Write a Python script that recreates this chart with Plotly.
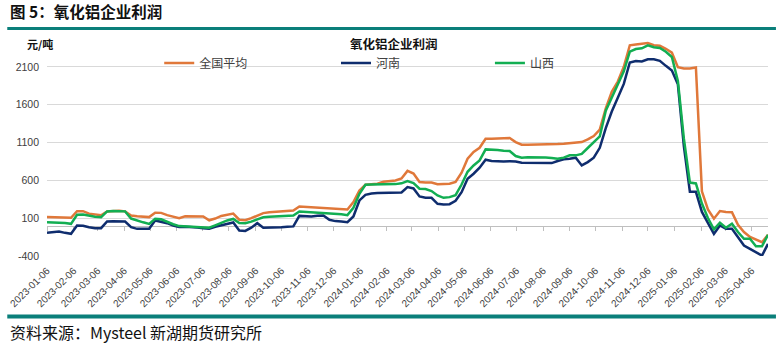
import pandas as pd
import plotly.graph_objects as go

# Weekly alumina producer profit (元/吨), first Friday of 2023 onwards
weeks = pd.date_range("2023-01-06", periods=121, freq="7D")

national = [
    114, 112, 110, 107, 105, 192, 192, 160, 148, 138,
    189, 195, 197, 190, 136, 125, 118, 114, 172, 170,
    140, 120, 100, 125, 127, 127, 122, 72, 95, 130,
    145, 160, 80, 72, 100, 135, 167, 178, 182, 189,
    197, 202, 255, 250, 246, 242, 237, 233, 228, 224,
    215, 312, 466, 541, 550, 555, 581, 590, 599, 625,
    725, 690, 577, 573, 570, 548, 550, 555, 580, 700,
    885, 975, 1030, 1150, 1150, 1155, 1159, 1159, 1106, 1071,
    1071, 1071, 1073, 1075, 1075, 1080, 1084, 1093, 1097, 1106,
    1141, 1185, 1270, 1550, 1770, 1905, 2100, 2385, 2395, 2400,
    2415, 2385, 2378, 2338, 2287, 2095, 2077, 2079, 2092, 455,
    215, 93, 195, 182, 178, 13, -84, -147, -182, -218,
    -120,
]

henan = [
    -94, -85, -76, -94, -107, 3, 0, -20, -32, -32,
    56, 60, 61, 56, -18, -41, -41, -41, 70, 56,
    34, 3, -18, -14, -16, -23, -32, -41, -14, 3,
    21, 43, -63, -69, -25, 34, -27, -27, -25, -20,
    -15, -9, 130, 127, 122, 131, 136, 78, 61, 56,
    47, 122, 334, 409, 427, 431, 431, 431, 431, 440,
    510, 493, 387, 369, 369, 290, 281, 285, 330, 444,
    621, 687, 767, 872, 855, 850, 850, 853, 850, 833,
    833, 833, 830, 828, 828, 855, 877, 885, 899, 797,
    841, 899, 1030, 1290, 1510, 1690, 1874, 2158, 2178, 2170,
    2200, 2200, 2180, 2113, 2050, 1869, 1050, 450, 448, 182,
    27, -107, 4, -40, -40, -151, -262, -306, -351, -395,
    -240,
]

shanxi = [
    47, 45, 43, 35, 25, 145, 147, 130, 120, 114,
    189, 195, 197, 190, 95, 65, 45, 25, 92, 85,
    50, 20, -5, -10, -12, -14, -18, -27, 5, 40,
    70, 90, 35, 34, 54, 85, 112, 118, 122, 127,
    131, 136, 189, 185, 180, 176, 171, 165, 158, 153,
    140, 237, 422, 542, 546, 546, 546, 548, 550, 560,
    590, 564, 489, 485, 458, 400, 369, 378, 404, 545,
    713, 797, 863, 1009, 1009, 1000, 991, 987, 921, 899,
    905, 907, 905, 903, 895, 885, 900, 930, 930, 950,
    1027, 1097, 1180, 1520, 1690, 1847, 2040, 2300, 2335, 2345,
    2385, 2360, 2349, 2300, 2230, 1914, 1150, 570, 559, 293,
    102, -49, 40, -27, 27, -84, -173, -173, -271, -271,
    -120,
]

series_names = ["全国平均", "河南", "山西"]
series_colors = ["#E0783A", "#0F2D6E", "#12AE52"]

month_ticks = pd.date_range("2023-01-01", "2025-04-01", freq="MS") + pd.Timedelta(days=5)
month_labels = [d.strftime("%Y-%m-%d") for d in month_ticks]
y_ticks = [-400, 100, 600, 1100, 1600, 2100]
y_range = [-400, 2600]

# canvas and plot-area geometry (pixels)
W, H = 776, 349
L, R, T, B = 42, 768, 29, 256


def px_x(px):
    return (px - L) / (R - L)


def px_y(py):
    return (B - py) / (B - T)


fig = go.Figure()
legend_ids = ["legend", "legend2", "legend3"]
for name, vals, color, lg in zip(series_names, [national, henan, shanxi], series_colors, legend_ids):
    fig.add_trace(go.Scatter(
        x=weeks, y=vals, name=name, mode="lines",
        line=dict(color=color, width=2.5),
        legend=lg,
    ))

# empty trace so the zero-crossing date axis gets drawn
fig.add_trace(go.Scatter(x=[weeks[0]], y=[None], xaxis="x2", showlegend=False,
                         hoverinfo="skip"))

zero_pos = (0 - y_range[0]) / (y_range[1] - y_range[0])
x_range = [weeks[0], weeks[-1]]
font_cjk = "Noto Sans CJK SC"
text_col = "#404040"

legend_common = dict(orientation="h", yanchor="middle", xanchor="left",
                     bgcolor="rgba(0,0,0,0)", borderwidth=0,
                     font=dict(family=font_cjk, size=12, color=text_col),
                     itemwidth=30, tracegroupgap=0)

fig.update_layout(
    width=W, height=H,
    margin=dict(l=L, r=W - R, t=T, b=H - B, pad=0),
    paper_bgcolor="white", plot_bgcolor="white",
    showlegend=True,
    legend=dict(x=px_x(155), y=px_y(63), **legend_common),
    legend2=dict(x=px_x(333), y=px_y(63), **legend_common),
    legend3=dict(x=px_x(488), y=px_y(63), **legend_common),
    xaxis=dict(
        range=x_range, showgrid=False, zeroline=False, showline=False,
        tickvals=month_ticks, ticktext=month_labels, tickangle=-45,
        ticks="", ticklabelstandoff=6,
        tickfont=dict(family="Liberation Sans", size=10, color=text_col),
    ),
    xaxis2=dict(
        range=x_range, overlaying="x", anchor="free", position=zero_pos,
        showgrid=False, zeroline=False, showticklabels=False,
        showline=True, linecolor="#BFBFBF", linewidth=1,
        tickvals=month_ticks, ticks="outside", ticklen=4,
        tickcolor="#BFBFBF", tickwidth=1, layer="below traces",
    ),
    yaxis=dict(
        range=y_range, tickvals=y_ticks, ticktext=[str(v) for v in y_ticks],
        showgrid=True, gridcolor="#D9D9D9", gridwidth=1,
        zeroline=False, showline=False, ticks="", ticklabelstandoff=7,
        tickfont=dict(family="Liberation Sans", size=10.5, color=text_col),
    ),
)

# header and footer rules
fig.add_shape(type="line", xref="paper", yref="paper",
              x0=px_x(2), x1=px_x(776), y0=px_y(28.5), y1=px_y(28.5),
              line=dict(color="#0A7F7A", width=3))
fig.add_shape(type="line", xref="paper", yref="paper",
              x0=px_x(2), x1=px_x(776), y0=px_y(316.5), y1=px_y(316.5),
              line=dict(color="#0A7F7A", width=4))

annotations = [
    dict(text="<b>图 5：氧化铝企业利润</b>", x=px_x(3), y=px_y(11), xanchor="left",
         yanchor="middle", font=dict(family=font_cjk, size=15.5, color="#111111")),
    dict(text="<b>元/吨</b>", x=px_x(20), y=px_y(44), xanchor="left",
         yanchor="middle", font=dict(family=font_cjk, size=11, color="#111111")),
    dict(text="<b>氧化铝企业利润</b>", x=px_x(391), y=px_y(44), xanchor="center",
         yanchor="middle", font=dict(family=font_cjk, size=12.5, color="#111111")),
    dict(text="资料来源：Mysteel 新湖期货研究所", x=px_x(3), y=px_y(332),
         xanchor="left", yanchor="middle",
         font=dict(family=font_cjk, size=16, color="#111111")),
]
for a in annotations:
    fig.add_annotation(xref="paper", yref="paper", showarrow=False, **a)

fig.write_html("out.html")
